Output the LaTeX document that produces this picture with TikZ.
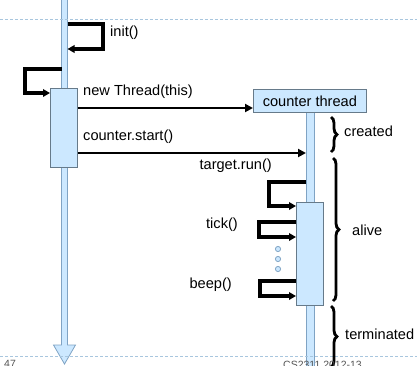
\documentclass[tikz,border=0pt]{standalone}
\usepackage{fontspec}
\setmainfont{Liberation Sans}
\usetikzlibrary{arrows.meta,decorations.pathreplacing,calc}
\definecolor{lb}{HTML}{CCE8FF}
\definecolor{lbline}{HTML}{7FA3C4}
\definecolor{boxline}{HTML}{667A8A}
\definecolor{dashc}{HTML}{A8C6DE}
\definecolor{foot}{HTML}{555555}
\begin{document}
\begin{tikzpicture}[x=1pt,y=-1pt,
  loopar/.style={line width=3.3pt, miter limit=4, -{Triangle[length=7pt,width=7.5pt]}},
  msg/.style={line width=2.6pt, -{Triangle[length=8pt,width=8pt]}},
  lbl/.style={font=\fontsize{14.6}{16}\selectfont, inner sep=0pt},
  act/.style={draw=boxline, fill=lb, line width=0.8pt, inner sep=0pt},
  brc/.style={decorate, decoration={brace, amplitude=6pt}, line width=2.8pt},
  sep/.style={draw=dashc, line width=0.8pt, dash pattern=on 3pt off 2pt},
  dotc/.style={circle, draw=lbline, fill=lb, line width=0.8pt, minimum size=5.2pt, inner sep=0pt}
]
\useasboundingbox (0,0) rectangle (417,365);
\clip (0,0) rectangle (417,365);

% left lifeline with hollow arrow end
\filldraw[fill=lb, draw=lbline, line width=0.8pt]
  (61.5,-2) -- (61.5,345) -- (53.5,345) -- (64.5,364) -- (75.5,345) -- (67.5,345) -- (67.5,-2) -- cycle;

% right lifeline
\filldraw[fill=lb, draw=lbline, line width=0.8pt] (306,112) rectangle (314,370);

% separator lines
\path[sep] (0,19.5) -- (417,19.5);
\path[sep] (0,356.5) -- (417,356.5);

% activation boxes and thread box
\node[act, minimum width=27pt, minimum height=79pt, anchor=north west] (actA) at (50,88) {};
\node[act, minimum width=113pt, minimum height=23pt, anchor=north west, font=\fontsize{14.6}{16}\selectfont] (thr) at (253,89) {counter thread};
\node[act, minimum width=27pt, minimum height=103pt, anchor=north west] (actB) at (296,202) {};

% init() self call on left lifeline
\coordinate (i1) at (67.5,24);
\coordinate (i2) at (67.5,49);
\draw[loopar] (i1) -- (103,24) -- (103,49) -- (i2);
\node[lbl, anchor=west] (linit) at (110,33) {init()};

% call into activation A
\coordinate (a0) at (61.5,69);
\draw[loopar] (a0) -- (25,69) -- (25,93) -- (actA.west |- 0,93);

% new Thread(this)
\node[lbl, anchor=west] (lnew) at (83,92) {new Thread(this)};
\draw[msg] (actA.east |- 0,108) -- (thr.west |- 0,108);

% counter.start()
\node[lbl, anchor=west] (lstart) at (83,137) {counter.start()};
\coordinate (rl) at (306,153);
\draw[msg] (actA.east |- 0,153) -- (rl);

% target.run()
\node[lbl, anchor=east] (lrun) at (272,166) {target.run()};
\coordinate (r1) at (306,182);
\draw[loopar] (r1) -- (269,182) -- (269,206) -- (actB.west |- 0,206);

% tick()
\node[lbl, anchor=east] (ltick) at (238,225) {tick()};
\draw[loopar] (actB.west |- 0,222) -- (259,222) -- (259,237) -- (actB.west |- 0,237);

% dots
\node[dotc] (d1) at (278,249) {};
\node[dotc] (d2) at (278,259) {};
\node[dotc] (d3) at (278,269) {};

% beep()
\node[lbl, anchor=east] (lbeep) at (232,285) {beep()};
\draw[loopar] (actB.west |- 0,281) -- (260,281) -- (260,296) -- (actB.west |- 0,296);

% braces
\draw[brc] (331,117) -- (331,152);
\node[lbl, anchor=west] (lcreated) at (344,131) {created};
\draw[brc] (333,158) -- (333,301);
\node[lbl, anchor=west] (lalive) at (352,230) {alive};
\draw[brc] (331,306) -- (331,367);
\node[lbl, anchor=west] (lterm) at (345,334) {terminated};

% footer (cut off, as in the reference)
\node[anchor=north west, inner sep=0pt, text=foot, font=\fontsize{10.5}{12}\selectfont] (pg) at (4,360.5) {47};
\node[anchor=north west, inner sep=0pt, text=foot, font=\fontsize{10.5}{12}\selectfont] (course) at (283,360.5) {CS2311 2012-13};
\end{tikzpicture}
\end{document}
